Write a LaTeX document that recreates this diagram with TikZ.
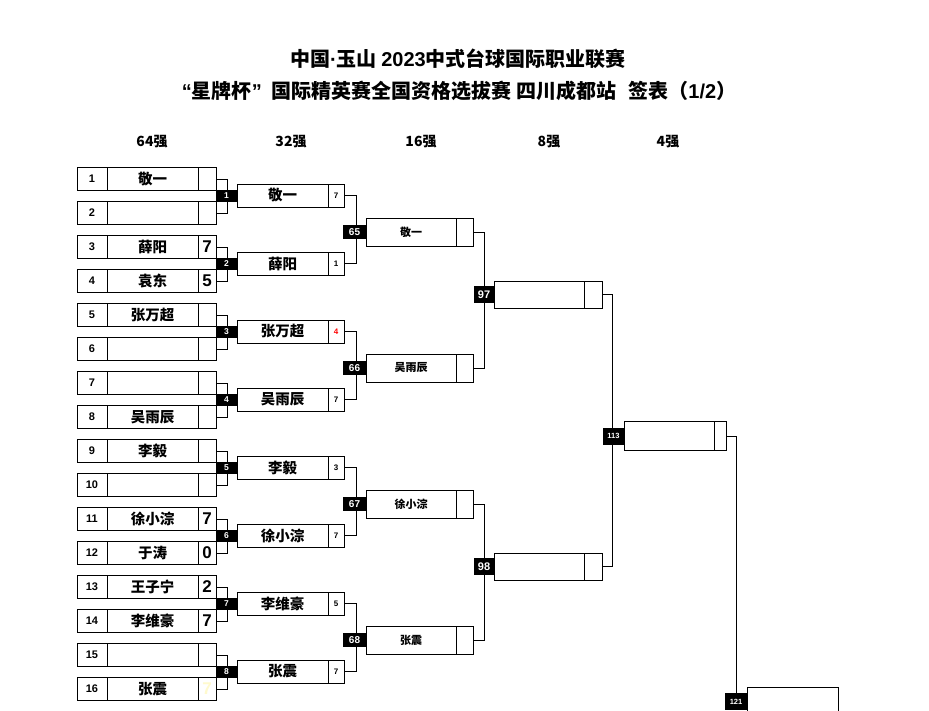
\documentclass[tikz,border=0pt]{standalone}
\usepackage{fontspec}
\setmainfont{Liberation Sans}
\newfontfamily\cjk{Noto Sans CJK SC}
\usetikzlibrary{positioning}
\definecolor{faint}{RGB}{255,250,205}
\newcommand{\lat}[1]{{\rmfamily\bfseries #1}}
\tikzset{
  cell/.style={draw,line width=1pt,inner sep=0pt,outer sep=0pt},
  numcell/.style={cell,minimum width=30pt,minimum height=23pt,font=\bfseries\fontsize{11}{11}\selectfont},
  namecell/.style={cell,minimum width=91pt,minimum height=23pt,font=\cjk\bfseries\fontsize{14.5}{14.5}\selectfont},
  thirdcell/.style={cell,minimum width=90pt,minimum height=28pt,font=\cjk\bfseries\fontsize{11}{11}\selectfont},
  bigscore/.style={cell,minimum width=18pt,minimum height=23pt,font=\bfseries\fontsize{17}{17}\selectfont},
  smallscore/.style={cell,minimum width=16pt,minimum height=23pt,font=\bfseries\fontsize{8}{8}\selectfont},
  blk/.style={fill=black,text=white,inner sep=0pt,outer sep=0pt,font=\bfseries\fontsize{8.5}{8.5}\selectfont},
  link/.style={line width=1pt},
  rnd/.style={font=\cjk\bfseries\fontsize{14}{14}\selectfont},
  ttl/.style={font=\cjk\bfseries\fontsize{20}{20}\selectfont},
}
\begin{document}
\begin{tikzpicture}[x=1pt,y=-1pt]
  \clip (0,0) rectangle (929,710);
  \fill[white] (0,0) rectangle (929,710);
  % titel
  \node[ttl] (title) at (458,59) {中国\lat{·}玉山 \lat{2023}中式台球国际职业联赛};
  \node[ttl] (subtitle) at (459,91) {\lat{“}星牌杯\lat{”}\hspace{0.5em}国际精英赛全国资格选拔赛 四川成都站\hspace{0.6em}签表（\lat{1/2}）};
  \foreach \x/\t [count=\k] in {152/64强,291/32强,421/16强,549/8强,668/4强}
    \node[rnd] (head\k) at (\x,142) {\t};
  % 64强
  \foreach \i/\nm/\sc in {1/敬一/,2//,3/薛阳/7,4/袁东/5,5/张万超/,6//,7//,8/吴雨辰/,9/李毅/,10//,11/徐小淙/7,12/于涛/0,13/王子宁/2,14/李维豪/7,15//,16/张震/{\color{faint}7}}{
    \node[numcell] (n\i) at (92,{179+34*(\i-1)}) {\i};
    \node[namecell,right=0pt of n\i] (p\i) {\nm};
    \node[bigscore,right=0pt of p\i] (s\i) {\sc};
  }
  \foreach \a/\b in {1/2,3/4,5/6,7/8,9/10,11/12,13/14,15/16}
    \draw[link] (s\a.east) -- ++(11,0) |- (s\b.east);
  % 32强
  \foreach \j/\nm/\sc in {1/敬一/7,2/薛阳/1,3/张万超/{\color{red}4},4/吴雨辰/7,5/李毅/3,6/徐小淙/7,7/李维豪/5,8/张震/7}{
    \node[blk,minimum width=21pt,minimum height=12pt] (b\j) at (226.5,{195.5+68*(\j-1)}) {\j};
    \node[namecell,right=0pt of b\j] (w\j) {\nm};
    \node[smallscore,right=0pt of w\j] (c\j) {\sc};
  }
  \foreach \a/\b in {1/2,3/4,5/6,7/8}
    \draw[link] (c\a.east) -- ++(12,0) |- (c\b.east);
  % 16强
  \foreach \m/\nm [count=\k] in {65/敬一,66/吴雨辰,67/徐小淙,68/张震}{
    \node[blk,minimum width=23pt,minimum height=14pt,font=\bfseries\fontsize{10}{10}\selectfont] (b\m) at (354.5,{232+136*(\k-1)}) {\m};
    \node[thirdcell,right=0pt of b\m] (w\m) {\nm};
    \node[cell,minimum width=17pt,minimum height=28pt,right=0pt of w\m] (c\m) {};
  }
  \foreach \a/\b in {65/66,67/68}
    \draw[link] (c\a.east) -- ++(11,0) |- (c\b.east);
  % 8强
  \foreach \m/\y in {97/294.5,98/566.5}{
    \node[blk,minimum width=21pt,minimum height=17pt,font=\bfseries\fontsize{11}{11}\selectfont] (b\m) at (484,\y) {\m};
    \node[cell,minimum width=90pt,minimum height=27pt,right=0pt of b\m] (w\m) {};
    \node[cell,minimum width=18pt,minimum height=27pt,right=0pt of w\m] (c\m) {};
  }
  \draw[link] (c97.east) -- ++(10,0) |- (c98.east);
  % 4强
  \node[blk,minimum width=21pt,minimum height=17pt,font=\bfseries\fontsize{7.5}{7.5}\selectfont] (b113) at (613.5,436) {113};
  \node[cell,minimum width=90pt,minimum height=29pt,right=0pt of b113] (w113) {};
  \node[cell,minimum width=12pt,minimum height=29pt,right=0pt of w113] (c113) {};
  \node[blk,minimum width=22pt,minimum height=17pt,font=\bfseries\fontsize{7.5}{7.5}\selectfont] (b121) at (736,701.5) {121};
  \node[cell,minimum width=91pt,minimum height=28pt,right=0pt of b121] (w121) {};
  \draw[link] (c113.east) -| (b121.north);
\end{tikzpicture}
\end{document}
